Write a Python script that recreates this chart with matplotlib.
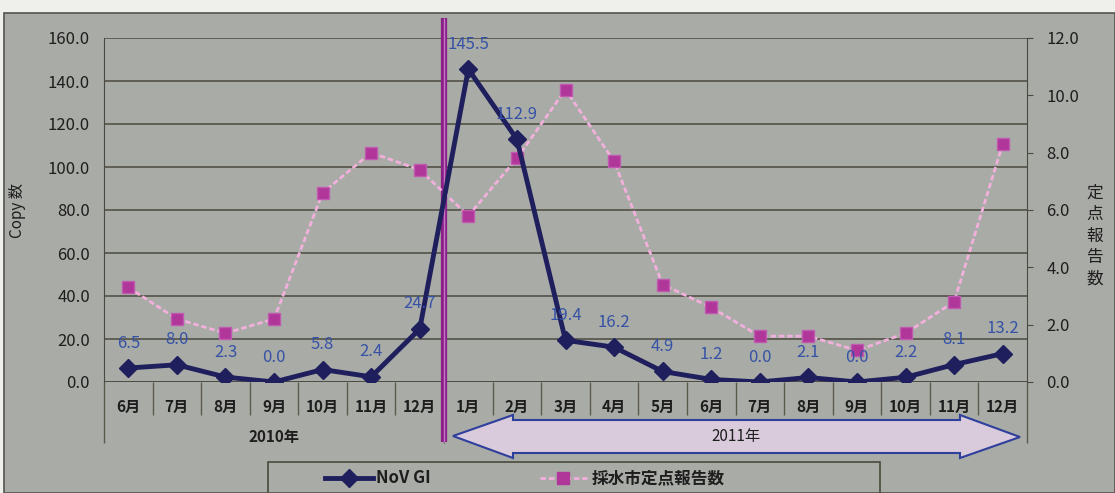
import matplotlib
matplotlib.use("Agg")
import matplotlib.pyplot as plt
from matplotlib.patches import Rectangle, Polygon
from matplotlib.lines import Line2D
from matplotlib.transforms import blended_transform_factory
import numpy as np

plt.rcParams["font.family"] = ["Noto Sans CJK JP", "DejaVu Sans"]

months = ["6月", "7月", "8月", "9月", "10月", "11月", "12月",
          "1月", "2月", "3月", "4月", "5月", "6月", "7月", "8月", "9月", "10月", "11月", "12月"]
years = ["2010年", "2011年"]
n_2010 = 7
nov_gi = [6.5, 8.0, 2.3, 0.0, 5.8, 2.4, 24.7,
          145.5, 112.9, 19.4, 16.2, 4.9, 1.2, 0.0, 2.1, 0.0, 2.2, 8.1, 13.2]
teiten = [3.3, 2.2, 1.7, 2.2, 6.6, 8.0, 7.4,
          5.8, 7.8, 10.2, 7.7, 3.4, 2.6, 1.6, 1.6, 1.1, 1.7, 2.8, 8.3]
left_ticks = [0, 20, 40, 60, 80, 100, 120, 140, 160]
right_ticks = [0, 2, 4, 6, 8, 10, 12]

W, H = 1115, 493
BG = "#a9aba6"
NAVY = "#1f1f5e"
PINK_LINE = "#f2b0dc"
PINK_MARK = "#b0369a"
LABEL_BLUE = "#3552a6"
GRID = "#4a4a40"
TXT = "#1e1e1e"


def fx(px):
    return px / W


def fy(py):
    return 1 - py / H


fig = plt.figure(figsize=(W / 100, H / 100), dpi=100, facecolor="#efefeb")

# chart area
fig.add_artist(Rectangle((fx(4), 0), 1 - fx(4), fy(13), transform=fig.transFigure,
                         facecolor=BG, edgecolor="#55554f", linewidth=1.2, zorder=-1))

ax = fig.add_axes([fx(104), fy(382), fx(1027) - fx(104), fy(38) - fy(382)])
ax.set_facecolor(BG)
x = np.arange(len(months))
ax.set_xlim(-0.5, len(months) - 0.5)
ax.set_ylim(0, 160)
ax.set_yticks(left_ticks)
ax.set_yticklabels([f"{v:.1f}" for v in left_ticks], fontsize=12, color=TXT)
ax.tick_params(axis="y", length=0, pad=10)
ax.yaxis.grid(True, color=GRID, linewidth=1.1)
ax.set_axisbelow(True)
ax.set_xticks(x)
ax.set_xticklabels(months, fontsize=11, fontweight="bold", color=TXT)
ax.tick_params(axis="x", length=0, pad=12)
for s in ["top", "right", "bottom"]:
    ax.spines[s].set_visible(False)
ax.spines["left"].set_color(GRID)
ax.set_ylabel("Copy 数", fontsize=11, color=TXT, labelpad=16)

ax2 = ax.twinx()
ax2.set_ylim(0, 12)
ax2.set_yticks(right_ticks)
ax2.set_yticklabels([f"{v:.1f}" for v in right_ticks], fontsize=12, color=TXT)
ax2.tick_params(axis="y", length=4, direction="out", pad=10, color=GRID)
for s in ["top", "left", "bottom"]:
    ax2.spines[s].set_visible(False)
ax2.spines["right"].set_color(GRID)

# category dividers and group separators under the axis
trans = blended_transform_factory(ax.transData, ax.transAxes)
h = 382 - 38
ax.hlines(0, -0.5, len(months) - 0.5, color=GRID, linewidth=1.2, zorder=3)
ax.vlines(np.arange(1, len(months)) - 0.5, -33 / h, 0, transform=trans,
          color="#5a5a4c", linewidth=1, clip_on=False)
ax.vlines([-0.5, n_2010 - 0.5, len(months) - 0.5], -61 / h, 0, transform=trans,
          color="#5a5a4c", linewidth=1, clip_on=False)
ax.text((n_2010 - 1) / 2, -55 / h, years[0], transform=trans, ha="center",
        va="center", fontsize=11, fontweight="bold", color=TXT)

# double-headed arrow spanning 2011
arrow_px = [(453, 436), (513, 415), (513, 420), (960, 420), (960, 415), (1020, 437),
            (960, 458), (960, 453), (513, 453), (513, 458)]
fig.add_artist(Polygon([(fx(a), fy(b)) for a, b in arrow_px], closed=True,
                       transform=fig.transFigure, facecolor="#d9cbdc",
                       edgecolor="#2f3f9c", linewidth=1.5, zorder=2))
fig.text(fx(104) + (fx(1027) - fx(104)) * (n_2010 + (len(months) - n_2010) / 2) / len(months),
         fy(437), years[1], ha="center", va="center", fontsize=11, color=TXT, zorder=3)

# year boundary marker
ax.vlines(n_2010 - 0.5, -60 / h, (382 - 18) / h, transform=trans, color="#8a1f8a",
          linewidth=4.5, clip_on=False, zorder=6)
ax.vlines(n_2010 - 0.5, -60 / h, (382 - 18) / h, transform=trans, color="#c479c4",
          linewidth=1, clip_on=False, zorder=6)

# series
ax2.plot(x, teiten, color=PINK_LINE, linewidth=2, linestyle=(0, (2, 1)),
         marker="s", markersize=9, markerfacecolor=PINK_MARK,
         markeredgecolor="#c05ab0", zorder=3)
ax2.plot(x, nov_gi, transform=ax.transData, color=NAVY, linewidth=3.5,
         marker="D", markersize=9, markerfacecolor=NAVY, markeredgecolor=NAVY,
         zorder=4)
for xi, v in zip(x, nov_gi):
    ax2.annotate(f"{v:.1f}", (xi, v), xycoords=ax.transData, xytext=(0, 18),
                 textcoords="offset points", ha="center", va="center",
                 fontsize=12, color=LABEL_BLUE, zorder=5)

# right axis title, one character per row
for i, ch in enumerate("定点報告数"):
    fig.text(fx(1095), fy(193 + 21.5 * i), ch, ha="center", va="center",
             fontsize=12, color=TXT)

# legend
fig.add_artist(Rectangle((fx(268), fy(500)), fx(880) - fx(268), fy(462) - fy(500),
                         transform=fig.transFigure, facecolor="none",
                         edgecolor="#4a4a3a", linewidth=1.2, zorder=2))
ly = fy(478)
fig.add_artist(Line2D([fx(325), fx(373)], [ly, ly], color=NAVY, linewidth=3.5,
                      transform=fig.transFigure))
fig.add_artist(Line2D([fx(349)], [ly], color=NAVY, marker="D", markersize=9,
                      transform=fig.transFigure))
fig.text(fx(376), ly, "NoV GI", ha="left", va="center", fontsize=12,
         fontweight="bold", color=TXT)
fig.add_artist(Line2D([fx(540), fx(587)], [ly, ly], color=PINK_LINE, linewidth=2,
                      linestyle=(0, (2, 1)), transform=fig.transFigure))
fig.add_artist(Line2D([fx(563)], [ly], color=PINK_MARK, marker="s", markersize=9,
                      transform=fig.transFigure))
fig.text(fx(592), ly, "採水市定点報告数", ha="left", va="center", fontsize=12,
         fontweight="bold", color=TXT)

fig.savefig("out.png", dpi=100, facecolor=fig.get_facecolor())
